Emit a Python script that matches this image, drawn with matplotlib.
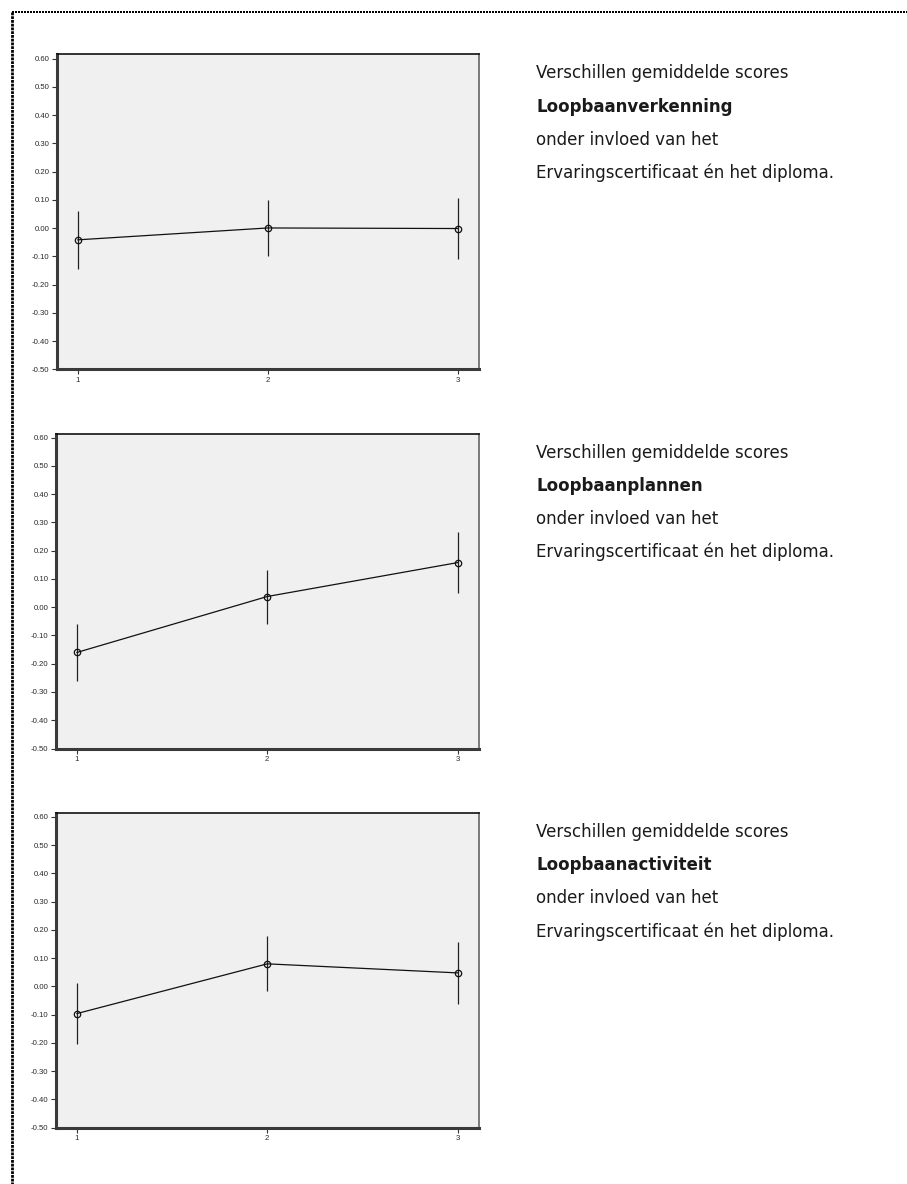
import matplotlib
matplotlib.use("Agg")
import matplotlib.pyplot as plt
from matplotlib.lines import Line2D

plt.rcParams['font.family'] = ['Liberation Sans', 'DejaVu Sans']

# Groups on the x axis
groups = [1, 2, 3]

# Mean difference per group and the lower / upper end of each error bar
verkenning_mean = [-0.041, 0.001, -0.001]
verkenning_low = [-0.143, -0.098, -0.110]
verkenning_high = [0.061, 0.100, 0.107]

plannen_mean = [-0.160, 0.038, 0.158]
plannen_low = [-0.261, -0.058, 0.050]
plannen_high = [-0.058, 0.132, 0.266]

activiteit_mean = [-0.096, 0.080, 0.048]
activiteit_low = [-0.205, -0.017, -0.063]
activiteit_high = [0.012, 0.177, 0.158]

scales = ["Loopbaanverkenning", "Loopbaanplannen", "Loopbaanactiviteit"]
y_ticks = [-0.50, -0.40, -0.30, -0.20, -0.10, 0.00, 0.10, 0.20, 0.30, 0.40, 0.50, 0.60]

series = [
    (verkenning_mean, verkenning_low, verkenning_high),
    (plannen_mean, plannen_low, plannen_high),
    (activiteit_mean, activiteit_low, activiteit_high),
]

W, H = 907, 1184
fig = plt.figure(figsize=(W / 100, H / 100), dpi=100)

# pixel boxes of the three panels: (left, top, right, bottom)
boxes = [(57, 54.5, 478.5, 369.5), (56, 433.5, 478.5, 748.5), (56, 812.7, 478.5, 1127.7)]

for (mean, low, high), name, (l, t, r, b) in zip(series, scales, boxes):
    ax = fig.add_axes([l / W, 1 - b / H, (r - l) / W, (b - t) / H])
    ax.set_facecolor('#f0f0f0')
    ax.vlines(groups, low, high, color='#222222', lw=0.9, zorder=2)
    ax.plot(groups, mean, color='#111111', lw=0.9, marker='o', ms=4.6,
            mfc='none', mec='#111111', mew=0.9, zorder=3)
    ax.set_xlim(0.89, 3.11)
    ax.set_ylim(-0.5, 0.615)
    ax.set_yticks(y_ticks)
    ax.set_yticklabels([f"{v:.2f}" for v in y_ticks])
    ax.set_xticks(groups)
    ax.set_xticklabels([str(g) for g in groups])
    ax.tick_params(axis='both', labelsize=5.6, labelcolor='#2a2a2a',
                   color='#333333', width=0.8, length=3.5, pad=2)
    ax.spines['left'].set_linewidth(2.2)
    ax.spines['left'].set_color('#3a3a3a')
    ax.spines['bottom'].set_linewidth(2.2)
    ax.spines['bottom'].set_color('#3a3a3a')
    ax.spines['top'].set_linewidth(1.2)
    ax.spines['top'].set_color('#111111')
    ax.spines['right'].set_linewidth(1.4)
    ax.spines['right'].set_color('#7a7a7a')

    # description beside the panel
    x_txt = 536 / W
    y0 = t + 19
    lines = ["Verschillen gemiddelde scores", name, "onder invloed van het",
             "Ervaringscertificaat én het diploma."]
    for i, txt in enumerate(lines):
        fig.text(x_txt, 1 - (y0 + i * 33.2) / H, txt, fontsize=12.0,
                 family=['DejaVu Sans'],
                 fontweight='bold' if i == 1 else 'normal', color='#1a1a1a',
                 ha='left', va='center')

# dotted page border along the top and the left side
fig.add_artist(Line2D([12 / W, 1], [1 - 12 / H, 1 - 12 / H], color='black',
                      lw=1.44, linestyle=(0, (1, 0.5)), transform=fig.transFigure))
fig.add_artist(Line2D([12 / W, 12 / W], [1 - 12 / H, 0], color='black',
                      lw=2.0, linestyle=(0, (1, 0.35)), transform=fig.transFigure))

fig.savefig('out.png', dpi=100)
